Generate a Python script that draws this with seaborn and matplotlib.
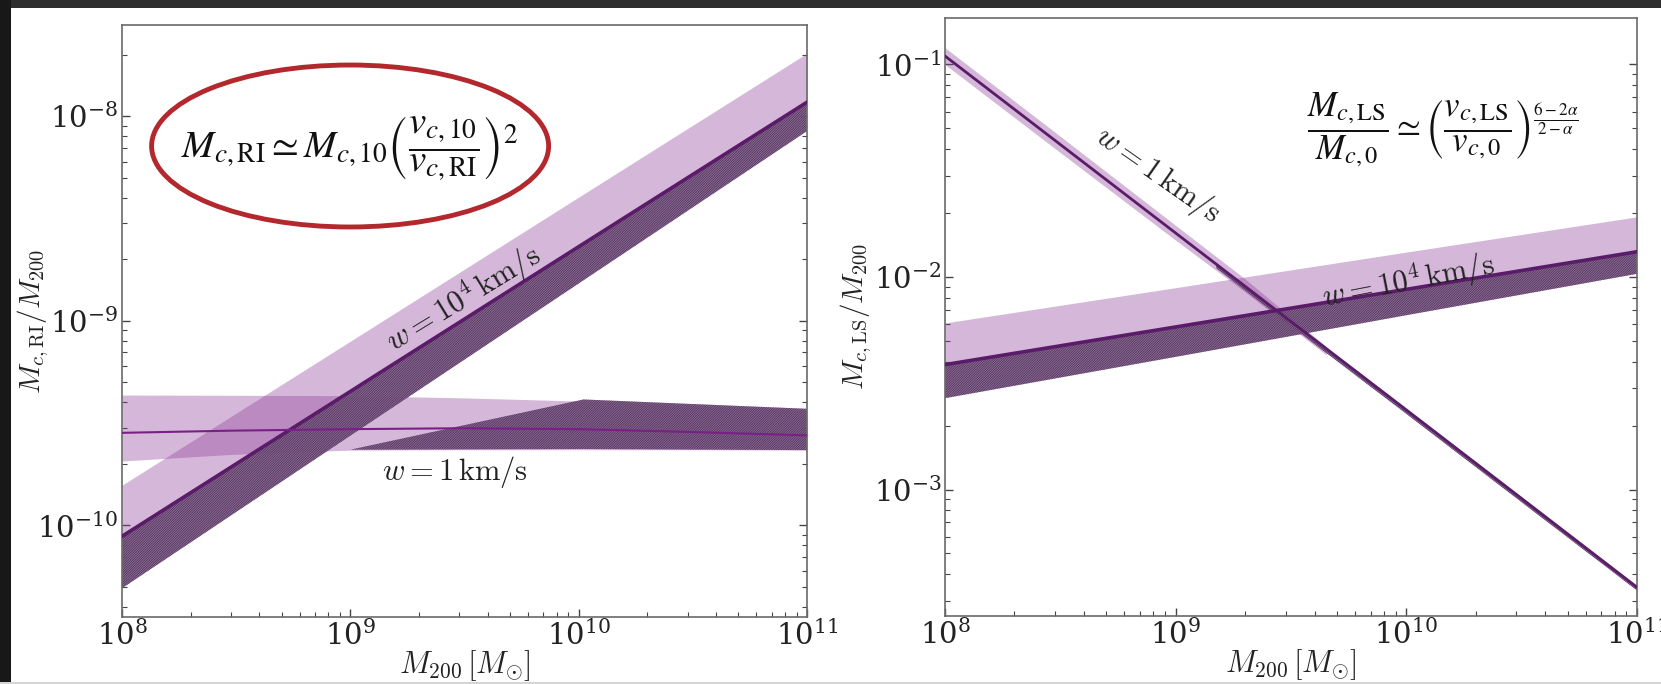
import numpy as np
import pandas as pd
import matplotlib
matplotlib.use("Agg")
import matplotlib.pyplot as plt
import seaborn as sns
from matplotlib.patches import Ellipse, Rectangle
from matplotlib.ticker import LogLocator, NullFormatter

# ---------------- data ----------------
# Left panel: M_c,RI / M_200
ri_fast_x = [1e8, 1e9, 1e10, 1e11]                       # w = 1e4 km/s
ri_fast_mid = [8.83e-11, 4.51e-10, 2.30e-9, 1.17e-8]
ri_fast_hi = [1.57e-10, 7.94e-10, 4.02e-9, 2.03e-8]
ri_fast_lo = [4.92e-11, 2.74e-10, 1.52e-9, 8.45e-9]

ri_slow_x = [1e8, 3e8, 1e9, 3e9, 1e10, 3e10, 1e11]        # w = 1 km/s
ri_slow_mid = [2.83e-10, 2.90e-10, 2.95e-10, 2.98e-10, 2.95e-10, 2.86e-10, 2.75e-10]
ri_slow_hi = [4.33e-10, 4.32e-10, 4.30e-10, 4.20e-10, 4.05e-10, 3.85e-10, 3.62e-10]
ri_slow_lo = [2.06e-10, 2.22e-10, 2.33e-10, 2.34e-10, 2.34e-10, 2.34e-10, 2.33e-10]
ri_slow_dark_x = [1e9, 1.05e10, 1e11]
ri_slow_dark_hi = [2.34e-10, 4.12e-10, 3.71e-10]
ri_slow_dark_lo = [2.34e-10, 2.36e-10, 2.33e-10]

# Right panel: M_c,LS / M_200
ls_fast_x = [1e8, 1e9, 1e10, 1e11]                       # w = 1e4 km/s
ls_fast_mid = [3.87e-3, 5.82e-3, 8.75e-3, 1.315e-2]
ls_fast_hi = [6.08e-3, 8.91e-3, 1.31e-2, 1.92e-2]
ls_fast_lo = [2.69e-3, 4.21e-3, 6.61e-3, 1.035e-2]

ls_slow_x = [1e8, 3e8, 1e9, 2e9, 3.5e9, 1e10, 3e10, 1e11]  # w = 1 km/s
ls_slow_mid = [1.096e-1, 4.39e-2, 1.61e-2, 9.04e-3, 5.67e-3, 2.37e-3, 9.48e-4, 3.47e-4]
ls_slow_light_x = [1e8, 3e8, 1e9, 2e9, 4.5e9]
ls_slow_light_hi = [1.20e-1, 4.80e-2, 1.75e-2, 9.80e-3, 4.70e-3]
ls_slow_light_lo = [1.00e-1, 4.02e-2, 1.49e-2, 8.50e-3, 4.30e-3]
ls_slow_dark_x = [1.5e9, 3.5e9, 1e10, 3e10, 1e11]
ls_slow_dark_hi = [1.16e-2, 5.67e-3, 2.37e-3, 9.48e-4, 3.47e-4]
ls_slow_dark_lo = [1.10e-2, 5.40e-3, 2.27e-3, 9.10e-4, 3.35e-4]

xticks = [1e8, 1e9, 1e10, 1e11]

# ---------------- style ----------------
sns.set_theme(style="white")
plt.rcParams["font.family"] = ["DejaVu Serif"]
plt.rcParams["mathtext.fontset"] = "cm"
plt.rcParams["hatch.linewidth"] = 0.4

LIGHT = "#8b3a98"
LIGHT_A = 0.36
DARK_FACE = "#86608f"
HATCH_C = "#3a2342"
LINE_FAST = "#5a1c69"
LINE_SLOW = "#7a1f86"

W, H = 1661, 684
fig = plt.figure(figsize=(W / 100, H / 100), dpi=100)
fig.patch.set_facecolor("white")

# slide background strips
fig.patches.append(Rectangle((0, 1 - 8 / H), 1, 8 / H, transform=fig.transFigure,
                             facecolor="#2e2e2e", edgecolor="none", zorder=-5))
fig.patches.append(Rectangle((0, 0), 11 / W, 1, transform=fig.transFigure,
                             facecolor="#181818", edgecolor="none", zorder=-5))
fig.patches.append(Rectangle((0, 0), 1, 2 / H, transform=fig.transFigure,
                             facecolor="#d4d4d4", edgecolor="none", zorder=-5))

axL = fig.add_axes([122 / W, 1 - 617 / H, 685 / W, 592 / H])
axR = fig.add_axes([945 / W, 1 - 616 / H, 692 / W, 598 / H])


def band(ax, x, lo, hi, hatched=False):
    if hatched:
        ax.fill_between(x, lo, hi, facecolor=DARK_FACE, edgecolor=HATCH_C,
                        hatch="/" * 14, linewidth=0, alpha=0.95, zorder=2)
    else:
        ax.fill_between(x, lo, hi, facecolor=LIGHT, alpha=LIGHT_A,
                        linewidth=0, zorder=1)


def style_axes(ax, ylim, ylabel, ylab_x):
    ax.set_xscale("log")
    ax.set_yscale("log")
    ax.set_xlim(1e8, 1e11)
    ax.set_ylim(*ylim)
    ax.set_xticks(xticks)
    ax.xaxis.set_minor_locator(LogLocator(base=10, subs=np.arange(2, 10)))
    ax.yaxis.set_minor_locator(LogLocator(base=10, subs=np.arange(2, 10)))
    ax.xaxis.set_minor_formatter(NullFormatter())
    ax.yaxis.set_minor_formatter(NullFormatter())
    ax.tick_params(which="both", direction="in", left=True, bottom=True,
                   right=True, top=False, colors="#444444", labelcolor="#222222")
    ax.tick_params(which="major", length=6, width=1.0, labelsize=21, pad=2.5)
    ax.tick_params(which="minor", length=3.5, width=0.8)
    for s in ax.spines.values():
        s.set_color("#6a6a6a")
        s.set_linewidth(1.2)
    ax.set_xlabel(r"$M_{200}\,[M_{\odot}]$", fontsize=22, color="#222222")
    ax.set_ylabel(ylabel, fontsize=21, color="#222222")
    ax.xaxis.label.set_va("center")
    ax.yaxis.label.set_va("center")
    ax.xaxis.set_label_coords(0.5, -0.082)
    ax.yaxis.set_label_coords(ylab_x, 0.5)
    ax.set_facecolor("white")


# ---------------- left panel ----------------
band(axL, ri_fast_x, ri_fast_mid, ri_fast_hi)
band(axL, ri_slow_x, ri_slow_lo, ri_slow_hi)
band(axL, ri_fast_x, ri_fast_lo, ri_fast_mid, hatched=True)
band(axL, ri_slow_dark_x, ri_slow_dark_lo, ri_slow_dark_hi, hatched=True)

dfL1 = pd.DataFrame({"M200": ri_fast_x, "Mc": ri_fast_mid})
dfL2 = pd.DataFrame({"M200": ri_slow_x, "Mc": ri_slow_mid})
sns.lineplot(data=dfL1, x="M200", y="Mc", ax=axL, color=LINE_FAST, lw=2.6, zorder=4)
sns.lineplot(data=dfL2, x="M200", y="Mc", ax=axL, color=LINE_SLOW, lw=1.5, zorder=4)

style_axes(axL, (3.56e-11, 2.79e-8), r"$M_{c,\mathrm{RI}}/M_{200}$", -0.13)

axL.text(0.498, 0.537, r"$w = 10^4\,\mathrm{km/s}$", transform=axL.transAxes,
         rotation=31.5, ha="center", va="center", fontsize=22, color="#222222",
         rotation_mode="anchor", zorder=6)
axL.text(0.486, 0.245, r"$w = 1\,\mathrm{km/s}$", transform=axL.transAxes,
         ha="center", va="center", fontsize=22, color="#222222", zorder=6)

axL.add_patch(Ellipse((0.333, 0.7956), 0.5796, 0.2736, transform=axL.transAxes,
                      facecolor="none", edgecolor="#b3282d", lw=3.5, zorder=7))
axL.text(0.333, 0.79,
         r"$M_{c,\mathrm{RI}} \simeq M_{c,10}\left(\dfrac{v_{c,10}}{v_{c,\mathrm{RI}}}\right)^{2}$",
         transform=axL.transAxes, ha="center", va="center", fontsize=28,
         color="#111111", math_fontfamily="stix", zorder=8)

# ---------------- right panel ----------------
band(axR, ls_fast_x, ls_fast_mid, ls_fast_hi)
band(axR, ls_slow_light_x, ls_slow_light_lo, ls_slow_light_hi)
band(axR, ls_fast_x, ls_fast_lo, ls_fast_mid, hatched=True)
band(axR, ls_slow_dark_x, ls_slow_dark_lo, ls_slow_dark_hi, hatched=True)

dfR1 = pd.DataFrame({"M200": ls_fast_x, "Mc": ls_fast_mid})
dfR2 = pd.DataFrame({"M200": ls_slow_x, "Mc": ls_slow_mid})
sns.lineplot(data=dfR1, x="M200", y="Mc", ax=axR, color=LINE_FAST, lw=2.6, zorder=4)
sns.lineplot(data=dfR2, x="M200", y="Mc", ax=axR, color=LINE_FAST, lw=2.0, zorder=4)

style_axes(axR, (2.54e-4, 0.1655), r"$M_{c,\mathrm{LS}}/M_{200}$", -0.128)

axR.text(0.3078, 0.7375, r"$w = 1\,\mathrm{km/s}$", transform=axR.transAxes,
         rotation=-35, ha="center", va="center", fontsize=22, color="#222222",
         rotation_mode="anchor", zorder=6)
axR.text(0.669, 0.56, r"$w = 10^4\,\mathrm{km/s}$", transform=axR.transAxes,
         rotation=11, ha="center", va="center", fontsize=22, color="#222222",
         rotation_mode="anchor", zorder=6)
axR.text(0.72, 0.8127,
         r"$\dfrac{M_{c,\mathrm{LS}}}{M_{c,0}} \simeq \left(\dfrac{v_{c,\mathrm{LS}}}{v_{c,0}}\right)^{\frac{6-2\alpha}{2-\alpha}}$",
         transform=axR.transAxes, ha="center", va="center", fontsize=25,
         color="#111111", math_fontfamily="stix", zorder=8)

fig.savefig("out.png", dpi=100, facecolor=fig.get_facecolor())
